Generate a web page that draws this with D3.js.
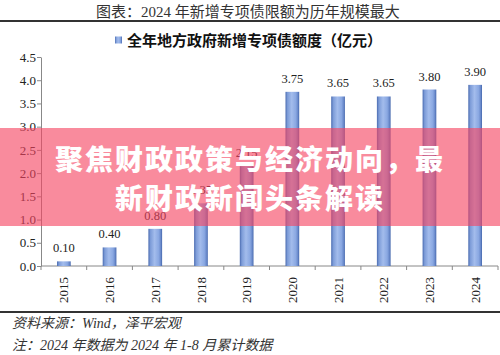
<!DOCTYPE html>
<html>
<head>
<meta charset="utf-8">
<script src="https://cdn.jsdelivr.net/npm/d3@7"></script>
<style>
html,body{margin:0;padding:0;background:#fff;}
svg{display:block;}
</style>
</head>
<body>
<svg id="chart" width="500" height="355"></svg>
<script>
const years = ["2015","2016","2017","2018","2019","2020","2021","2022","2023","2024"];
const values = [0.10,0.40,0.80,1.35,2.15,3.75,3.65,3.65,3.80,3.90];
const valueLabels = ["0.10","0.40","0.80","1.35","2.15","3.75","3.65","3.65","3.80","3.90"];
const yTicks = [0,0.5,1.0,1.5,2.0,2.5,3.0,3.5,4.0,4.5];
const titleText = "图表：2024 年新增专项债限额为历年规模最大";
const legendText = "全年地方政府新增专项债额度（亿元）";
const sourceText = "资料来源：Wind，泽平宏观";
const noteText = "注：2024 年数据为 2024 年 1-8 月累计数据";
const overlayLines = ["聚焦财政政策与经济动向，最","新财政新闻头条解读"];

const svg = d3.select("#chart");
const serif = "'Liberation Serif','Times New Roman',serif";
const cjk = "'Liberation Serif','Noto Sans CJK SC',sans-serif";

const defs = svg.append("defs");
const grad = defs.append("linearGradient").attr("id","barGrad").attr("x1","0").attr("x2","1").attr("y1","0").attr("y2","0");
[[0,"#4a6bb0"],[0.15,"#7d9cd8"],[0.45,"#a3bcec"],[0.75,"#8aa8e2"],[0.9,"#6a8acb"],[1,"#4466ac"]]
  .forEach(([o,c])=>grad.append("stop").attr("offset",o).attr("stop-color",c));

// Title
svg.append("text").attr("x",248).attr("y",17).attr("text-anchor","middle")
  .attr("font-family",cjk).attr("font-size",15).attr("fill","#333").text(titleText);
svg.append("line").attr("x1",0).attr("x2",500).attr("y1",21).attr("y2",21)
  .attr("stroke","#333").attr("stroke-width",2);

// Legend
svg.append("rect").attr("x",115).attr("y",36.5).attr("width",7).attr("height",7).attr("fill","url(#barGrad)");
svg.append("text").attr("x",127).attr("y",45.5).attr("font-family","'Noto Sans CJK SC',sans-serif")
  .attr("font-weight","bold").attr("font-size",15).attr("fill","#111").text(legendText);

// Scales
const x = d3.scaleBand().domain(years).range([41,498]).paddingInner(0.7).paddingOuter(0.35);
const y = d3.scaleLinear().domain([0,4.5]).range([266,57]);

// Y axis
const yAxis = svg.append("g").attr("transform","translate(41,0)")
  .call(d3.axisLeft(y).tickValues(yTicks).tickFormat(d3.format(".1f")).tickSize(4).tickSizeOuter(0));
yAxis.select(".domain").attr("stroke","#888");
yAxis.selectAll(".tick line").attr("stroke","#888");
yAxis.selectAll(".tick text").attr("font-family",serif).attr("font-size",13).attr("fill","#222").attr("x",-5);

// X axis line with ticks at category boundaries
const xa = svg.append("g");
xa.append("line").attr("x1",41).attr("x2",498).attr("y1",266).attr("y2",266).attr("stroke","#888");
const step = x.step();
const bounds = years.map((d,i)=> x(d) + x.bandwidth()/2 - step/2).concat([x(years[years.length-1]) + x.bandwidth()/2 + step/2]);
xa.selectAll(".bt").data(bounds).enter().append("line")
  .attr("x1",d=>d).attr("x2",d=>d).attr("y1",266).attr("y2",270).attr("stroke","#888");
xa.selectAll(".yl").data(years).enter().append("text")
  .attr("transform",d=>`translate(${x(d)+x.bandwidth()/2},277) rotate(-90)`)
  .attr("text-anchor","end").attr("dy","0.35em")
  .attr("font-family",serif).attr("font-size",13).attr("fill","#222").text(d=>d);

// Bars
svg.selectAll(".bar").data(values).enter().append("rect")
  .attr("x",(d,i)=>x(years[i])).attr("width",x.bandwidth())
  .attr("y",d=>y(d)).attr("height",d=>266-y(d)).attr("fill","url(#barGrad)");

// Value labels
svg.selectAll(".vl").data(values).enter().append("text")
  .attr("x",(d,i)=>x(years[i])+x.bandwidth()/2).attr("y",d=>y(d)-9)
  .attr("text-anchor","middle").attr("font-family",serif).attr("font-size",12.5).attr("fill","#222")
  .text((d,i)=>valueLabels[i]);

// Footer
svg.append("line").attr("x1",0).attr("x2",500).attr("y1",312).attr("y2",312)
  .attr("stroke","#333").attr("stroke-width",2);
svg.append("text").attr("x",12).attr("y",328).attr("font-family",cjk).attr("font-style","italic")
  .attr("font-size",14).attr("fill","#333").text(sourceText);
svg.append("text").attr("x",12).attr("y",350).attr("font-family",cjk).attr("font-style","italic")
  .attr("font-size",14).attr("fill","#333").text(noteText);

// Overlay banner
svg.append("rect").attr("x",0).attr("y",128).attr("width",500).attr("height",98)
  .attr("fill","rgb(245,68,97)").attr("fill-opacity",0.62);
svg.selectAll(".ov").data(overlayLines).enter().append("text")
  .attr("x",250).attr("y",(d,i)=>159.5 + i*39).attr("dy","0.36em")
  .attr("text-anchor","middle").attr("font-family","'Noto Sans CJK SC',sans-serif")
  .attr("font-weight","900").attr("font-size",28).attr("letter-spacing",2)
  .attr("fill","#fff").text(d=>d);
</script>
</body>
</html>
